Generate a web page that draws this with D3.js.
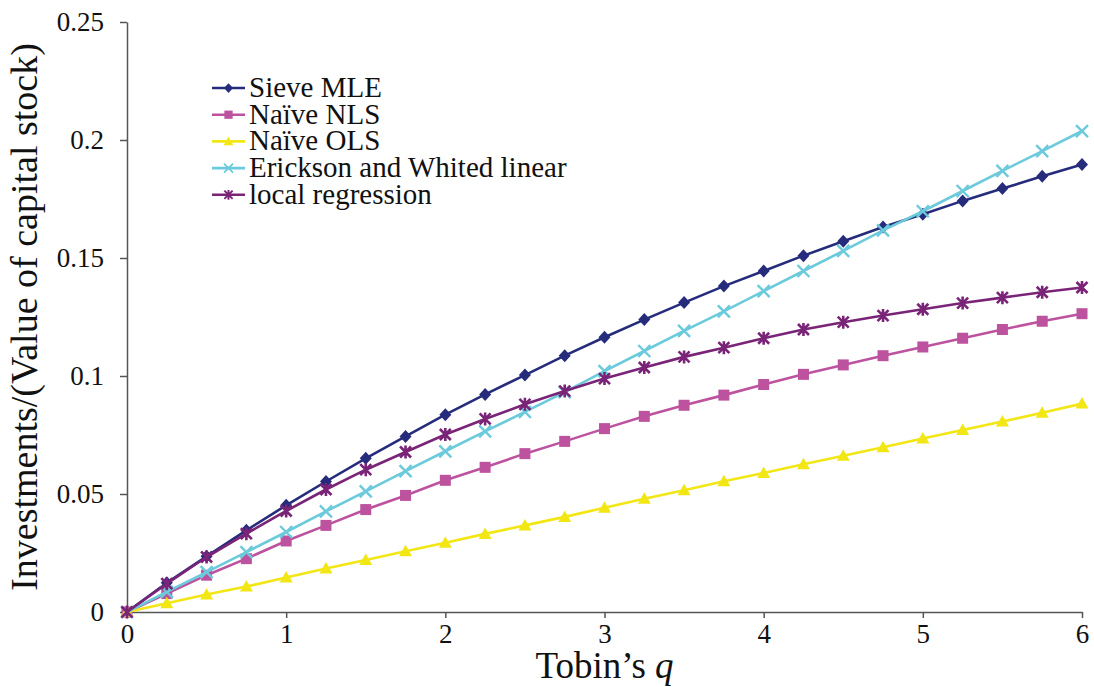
<!DOCTYPE html>
<html>
<head>
<meta charset="UTF-8">
<script src="https://d3js.org/d3.v7.min.js"></script>
</head>
<body style="margin:0">
<svg width="1094" height="687"></svg>
<script>
const qValues = [0, 0.25, 0.5, 0.75, 1, 1.25, 1.5, 1.75, 2, 2.25, 2.5, 2.75, 3,
                 3.25, 3.5, 3.75, 4, 4.25, 4.5, 4.75, 5, 5.25, 5.5, 5.75, 6];

const sieveMLE = [0, 0.0124, 0.0236, 0.0346, 0.0452, 0.0553, 0.0651, 0.0744, 0.0836, 0.0922,
                  0.1004, 0.1086, 0.1164, 0.1239, 0.1311, 0.1381, 0.1445, 0.1510, 0.1571,
                  0.1631, 0.1685, 0.1742, 0.1794, 0.1846, 0.1896];
const naiveNLS = [0, 0.0078, 0.0156, 0.0226, 0.0301, 0.0367, 0.0434, 0.0494, 0.0558, 0.0613,
                  0.0671, 0.0723, 0.0777, 0.0829, 0.0876, 0.0919, 0.0964, 0.1007, 0.1047,
                  0.1086, 0.1123, 0.1160, 0.1197, 0.1232, 0.1264];
const naiveOLS = [0, 0.0037, 0.0074, 0.0108, 0.0146, 0.0184, 0.0220, 0.0257, 0.0293, 0.0331,
                  0.0367, 0.0403, 0.0442, 0.0480, 0.0516, 0.0554, 0.0589, 0.0626, 0.0662,
                  0.0698, 0.0735, 0.0771, 0.0807, 0.0844, 0.0883];
const ericksonWhited = [0, 0.0085, 0.0169, 0.0254, 0.0339, 0.0426, 0.0511, 0.0597, 0.0681, 0.0765,
                        0.0848, 0.0932, 0.1021, 0.1106, 0.1191, 0.1274, 0.1360, 0.1445, 0.1530,
                        0.1617, 0.1698, 0.1784, 0.1869, 0.1953, 0.2038];
const localRegression = [0, 0.0120, 0.0233, 0.0332, 0.0428, 0.0519, 0.0603, 0.0678, 0.0752, 0.0818,
                         0.0880, 0.0936, 0.0989, 0.1036, 0.1081, 0.1120, 0.1160, 0.1197, 0.1228,
                         0.1256, 0.1283, 0.1309, 0.1332, 0.1355, 0.1375];

const seriesNames = ["Sieve MLE", "Naïve NLS", "Naïve OLS", "Erickson and Whited linear", "local regression"];
const seriesValues = [sieveMLE, naiveNLS, naiveOLS, ericksonWhited, localRegression];
const seriesColors = ["#262c7c", "#bd529f", "#f2e614", "#6bcadb", "#7a2478"];
const seriesSymbols = ["diamond", "square", "triangle", "cross", "star"];

const xTicks = [0, 1, 2, 3, 4, 5, 6];
const yTicks = [0, 0.05, 0.1, 0.15, 0.2, 0.25];
const yTickLabels = ["0", "0.05", "0.1", "0.15", "0.2", "0.25"];

const fontName = "Liberation Serif";
const svg = d3.select("svg");
const margin = { left: 127, top: 22, right: 12, bottom: 75 };
const width = 1094, height = 687;

const x = d3.scaleLinear().domain([0, 6]).range([margin.left, width - margin.right]);
const y = d3.scaleLinear().domain([0, 0.25]).range([height - margin.bottom, margin.top]);

// put a serif face on a text selection
function serifText(sel, size) {
  sel.style("font-family", fontName).style("font-size", size + "px").attr("fill", "#111");
}

// axes
const xAxis = svg.append("g")
  .attr("transform", `translate(0,${y(0)})`)
  .call(d3.axisBottom(x).tickValues(xTicks).tickSize(6).tickSizeOuter(0).tickPadding(6).tickFormat(d3.format("d")));

const yAxis = svg.append("g")
  .attr("transform", `translate(${x(0)},0)`)
  .call(d3.axisLeft(y).tickValues(yTicks).tickSize(7).tickSizeOuter(0).tickPadding(16)
    .tickFormat((d, i) => yTickLabels[i]));

[xAxis, yAxis].forEach(g => {
  g.attr("font-family", null).attr("font-size", null);
  g.selectAll("path, line").attr("stroke", "#555").attr("stroke-width", 1.5);
  g.selectAll("text").call(serifText, 27);
});

// marker shapes
function drawMarker(sel, kind, color) {
  if (kind === "diamond") {
    sel.append("path").attr("d", "M0,-6.5L6,0L0,6.5L-6,0Z").attr("fill", color);
  } else if (kind === "square") {
    sel.append("rect").attr("x", -5.5).attr("y", -5.5).attr("width", 11).attr("height", 11).attr("fill", color);
  } else if (kind === "triangle") {
    sel.append("path").attr("d", "M0,-6.5L6.5,5L-6.5,5Z").attr("fill", color);
  } else if (kind === "cross") {
    sel.append("path").attr("d", "M-6,-6L6,6M-6,6L6,-6").attr("stroke", color).attr("stroke-width", 2.4).attr("fill", "none");
  } else if (kind === "star") {
    sel.append("path").attr("d", "M-5.5,-5.5L5.5,5.5M-5.5,5.5L5.5,-5.5M0,-6.5V6.5")
      .attr("stroke", color).attr("stroke-width", 2.6).attr("fill", "none");
  }
}

const line = d3.line().x((d, i) => x(qValues[i])).y(d => y(d));

seriesValues.forEach((vals, s) => {
  const g = svg.append("g");
  g.append("path")
    .attr("fill", "none")
    .attr("stroke-width", 2.6)
    .attr("stroke", seriesColors[s])
    .attr("d", line(vals));
  g.selectAll("g.pt")
    .data(vals)
    .join("g")
    .attr("class", "pt")
    .attr("transform", (d, i) => `translate(${x(qValues[i])},${y(d)})`)
    .each(function() { drawMarker(d3.select(this), seriesSymbols[s], seriesColors[s]); });
});

// legend
const legend = svg.append("g").attr("transform", "translate(212,88)");
seriesNames.forEach((name, s) => {
  const row = legend.append("g").attr("transform", `translate(0,${s * 26.7})`);
  row.append("line").attr("x1", 0).attr("x2", 33).attr("y1", 0).attr("y2", 0)
    .attr("stroke", seriesColors[s]).attr("stroke-width", 2.6);
  const m = row.append("g").attr("transform", "translate(16.5,0) scale(0.75)");
  drawMarker(m, seriesSymbols[s], seriesColors[s]);
  row.append("text").attr("x", 37).attr("y", 9).text(name).call(serifText, 29);
});

// titles
const xt = svg.append("text")
  .attr("x", x(3)).attr("y", 678).attr("text-anchor", "middle")
  .call(serifText, 37);
xt.append("tspan").text("Tobin\u2019s ");
xt.append("tspan").style("font-style", "italic").text("q");

svg.append("text")
  .attr("transform", `translate(37,${(margin.top + y(0)) / 2}) rotate(-90)`)
  .attr("text-anchor", "middle")
  .text("Investments/(Value of capital stock)")
  .call(serifText, 38);
</script>
</body>
</html>
